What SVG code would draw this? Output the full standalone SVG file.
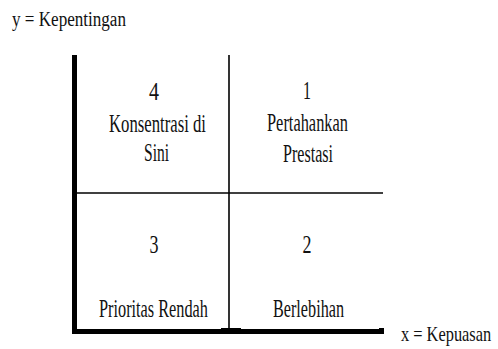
<svg xmlns="http://www.w3.org/2000/svg" width="498" height="349" viewBox="0 0 498 349">
<style>
text{font-family:"Liberation Serif","Times New Roman",serif;fill:#111;}
.axis{font-size:20px;}
.q{font-size:25px;text-anchor:middle;}
.thin{stroke:#000;stroke-width:1.6;fill:none;}
.thick{fill:#000;}
</style>
<rect width="498" height="349" fill="#fff"/>
<g id="axes">
<rect class="thick" x="72" y="55" width="5" height="279"/>
<rect class="thick" x="72" y="329" width="311" height="5"/>
<rect class="thick" x="379" y="328" width="5" height="6"/>
<rect class="thick" x="221" y="328" width="20" height="3"/>
</g>
<g id="connectors">
<line class="thin" x1="229" y1="55" x2="229" y2="330"/>
<line class="thin" x1="77" y1="193" x2="383" y2="193"/>
</g>
<g id="label-y"><text class="axis" x="12" y="26" textLength="114" lengthAdjust="spacingAndGlyphs">y = Kepentingan</text></g>
<g id="label-x"><text class="axis" transform="translate(401,341) scale(0.82,1)" x="0" y="0">x = Kepuasan</text></g>
<g id="q4">
<text class="q" x="154" y="100" textLength="10" lengthAdjust="spacingAndGlyphs">4</text>
<text class="q" x="157.5" y="132" textLength="97" lengthAdjust="spacingAndGlyphs">Konsentrasi di</text>
<text class="q" x="156.5" y="161" textLength="25" lengthAdjust="spacingAndGlyphs">Sini</text>
</g>
<g id="q1">
<text class="q" x="307" y="99" textLength="8" lengthAdjust="spacingAndGlyphs">1</text>
<text class="q" x="307.5" y="131" textLength="81" lengthAdjust="spacingAndGlyphs">Pertahankan</text>
<text class="q" x="308" y="162" textLength="50" lengthAdjust="spacingAndGlyphs">Prestasi</text>
</g>
<g id="q3">
<text class="q" x="154" y="253" textLength="9" lengthAdjust="spacingAndGlyphs">3</text>
<text class="q" x="153.5" y="317" textLength="109" lengthAdjust="spacingAndGlyphs">Prioritas Rendah</text>
</g>
<g id="q2">
<text class="q" x="307" y="253" textLength="9" lengthAdjust="spacingAndGlyphs">2</text>
<text class="q" x="308.5" y="317" textLength="71" lengthAdjust="spacingAndGlyphs">Berlebihan</text>
</g>
</svg>
